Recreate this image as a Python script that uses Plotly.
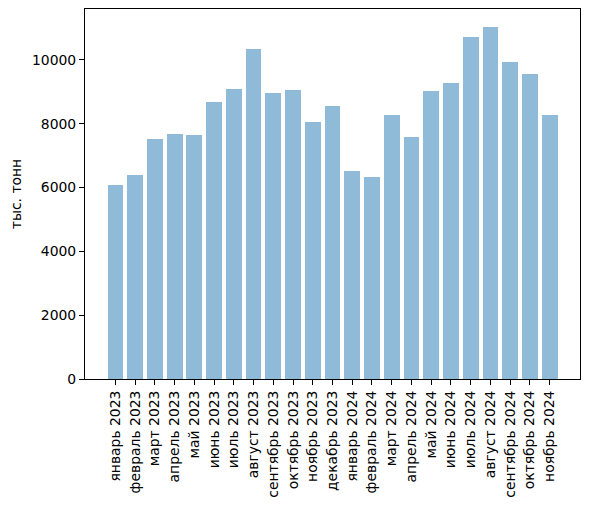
import plotly.graph_objects as go

months = ["январь 2023", "февраль 2023", "март 2023", "апрель 2023", "май 2023",
          "июнь 2023", "июль 2023", "август 2023", "сентябрь 2023", "октябрь 2023",
          "ноябрь 2023", "декабрь 2023", "январь 2024", "февраль 2024", "март 2024",
          "апрель 2024", "май 2024", "июнь 2024", "июль 2024", "август 2024",
          "сентябрь 2024", "октябрь 2024", "ноябрь 2024"]
values = [6090, 6400, 7530, 7690, 7660, 8690, 9100, 10350, 8975, 9070, 8065,
          8570, 6530, 6340, 8285, 7595, 9040, 9290, 10730, 11045, 9945, 9570, 8285]
y_ticks = [0, 2000, 4000, 6000, 8000, 10000]
y_title = "тыс. тонн"

font = dict(family="DejaVu Sans", size=13.9, color="black")

fig = go.Figure(go.Bar(
    x=list(range(len(months))), y=values, width=0.8,
    marker=dict(color="rgba(31,119,180,0.5)", line=dict(width=0)),
))
fig.update_layout(
    width=581, height=498,
    margin=dict(l=77, r=9, t=1, b=127, autoexpand=False),
    paper_bgcolor="white", plot_bgcolor="white",
    font=font, showlegend=False, bargap=0,
)
fig.update_xaxes(
    range=[-1.54, len(months) - 1 + 1.54],
    tickmode="array", tickvals=list(range(len(months))), ticktext=months,
    tickangle=-90, ticks="outside", ticklen=5, tickwidth=1.1, tickcolor="black",
    showline=True, linecolor="black", linewidth=1.1, mirror=True,
    showgrid=False, zeroline=False, automargin=False,
)
fig.update_yaxes(
    range=[0, max(values) * 1.05],
    tickmode="array", tickvals=y_ticks, ticktext=[str(v) for v in y_ticks],
    ticks="outside", ticklen=5, tickwidth=1.1, tickcolor="black",
    showline=True, linecolor="black", linewidth=1.1, mirror=True,
    showgrid=False, zeroline=False, automargin=False,
    title=dict(text=y_title, font=font, standoff=17),
)
fig.write_html("out.html")
